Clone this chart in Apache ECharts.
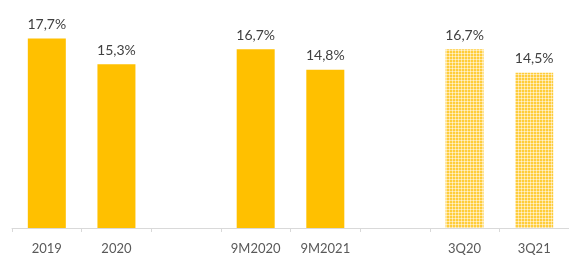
<!DOCTYPE html>
<html>
<head>
<meta charset="utf-8">
<script src="https://cdn.jsdelivr.net/npm/echarts@6/dist/echarts.min.js"></script>
<style>
  html, body { margin: 0; padding: 0; background: #fff; }
  #chart { width: 569px; height: 255px; }
</style>
</head>
<body>
<div id="chart"></div>
<script>
// categories (empty ones are the gaps between groups)
var categories = ['2019', '2020', '', '9M2020', '9M2021', '', '3Q20', '3Q21'];
var values = [17.7, 15.3, null, 16.7, 14.8, null, 16.7, 14.5];
// which bars are drawn with the dotted pattern
var patterned = [false, false, false, false, false, false, true, true];

// small dotted tile for the quarterly bars
function makePattern() {
    var c = document.createElement('canvas');
    c.width = 3; c.height = 3;
    var ctx = c.getContext('2d');
    ctx.fillStyle = '#ffe49a';
    ctx.fillRect(0, 0, 3, 3);
    ctx.fillStyle = '#ffcd3a';
    ctx.fillRect(0, 0, 2, 2);
    ctx.fillStyle = '#fff3d0';
    ctx.fillRect(2, 2, 1, 1);
    return c;
}
var pattern = { image: makePattern(), repeat: 'repeat' };

var myChart = echarts.init(document.getElementById('chart'));
var option = {
    animation: false,
    grid: { left: 12, width: 561, top: 14, bottom: 24 },
    xAxis: {
        type: 'category',
        data: categories,
        axisLine: { lineStyle: { color: '#d9d9d9', width: 1 } },
        axisTick: { show: true, alignWithLabel: false, length: 4, lineStyle: { color: '#d9d9d9' } },
        axisLabel: { color: '#595959', fontSize: 13, fontFamily: 'Lato', margin: 14, interval: 0 }
    },
    yAxis: {
        type: 'value',
        min: 0,
        max: 20,
        show: false,
        splitLine: { show: false }
    },
    series: [{
        type: 'bar',
        barWidth: 38,
        data: values.map(function (v, i) {
            if (v === null) return '-';
            return {
                value: v,
                itemStyle: { color: patterned[i] ? pattern : '#ffc000' }
            };
        }),
        label: {
            show: true,
            position: 'top',
            distance: 7,
            color: '#404040',
            fontSize: 14,
            fontFamily: 'Lato',
            formatter: function (p) {
                return p.value.toFixed(1).replace('.', ',') + '%';
            }
        }
    }]
};
myChart.setOption(option);
</script>
</body>
</html>
